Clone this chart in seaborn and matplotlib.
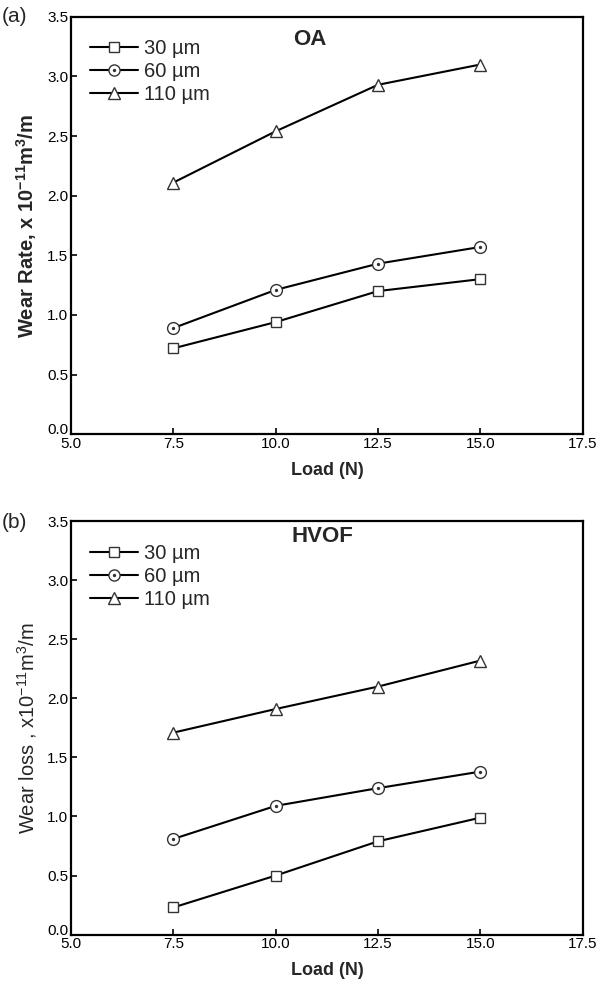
import numpy as np
import pandas as pd
import matplotlib
matplotlib.use("Agg")
import matplotlib.pyplot as plt
import matplotlib.transforms as mtransforms
from matplotlib.lines import Line2D
import seaborn as sns

sns.set_style("ticks")
plt.rcParams["font.family"] = ["Liberation Sans", "DejaVu Sans"]
plt.rcParams["mathtext.fontset"] = "custom"
plt.rcParams["mathtext.rm"] = "Liberation Sans"
plt.rcParams["mathtext.bf"] = "Liberation Sans:bold"

load = [7.5, 10.0, 12.5, 15.0]
sizes = ["30 µm", "60 µm", "110 µm"]

# wear rate, OA coating (x 10^-11 m^3/m)
oa_30 = [0.72, 0.94, 1.20, 1.30]
oa_60 = [0.89, 1.21, 1.43, 1.57]
oa_110 = [2.11, 2.54, 2.93, 3.10]

# wear loss, HVOF coating
hvof_30 = [0.23, 0.50, 0.79, 0.99]
hvof_60 = [0.81, 1.09, 1.24, 1.38]
hvof_110 = [1.71, 1.91, 2.10, 2.32]

x_ticks = [5.0, 7.5, 10.0, 12.5, 15.0, 17.5]
y_ticks = [0.0, 0.5, 1.0, 1.5, 2.0, 2.5, 3.0, 3.5]

markers = {"30 µm": "s", "60 µm": "o", "110 µm": "^"}
ms = {"30 µm": 7.5, "60 µm": 8.5, "110 µm": 9}


def make_df(s30, s60, s110):
    rows = []
    for name, vals in zip(sizes, [s30, s60, s110]):
        for x, v in zip(load, vals):
            rows.append({"Load": x, "Wear": v, "Size": name})
    return pd.DataFrame(rows)


def draw_panel(ax, df, ylabel, ybold, title, title_xy, tag, tag_y):
    for name in sizes:
        sub = df[df["Size"] == name]
        sns.lineplot(data=sub, x="Load", y="Wear", marker=markers[name],
                     color="black", linewidth=1.5, markersize=ms[name],
                     markerfacecolor="white", markeredgecolor="#333333",
                     markeredgewidth=1.0, legend=False, ax=ax, zorder=3)
    dots = df[df["Size"] == "60 µm"]
    ax.plot(dots["Load"], dots["Wear"], ls="none", marker="o", ms=1.4,
            color="#333333", zorder=4)

    ax.set_xlim(5.0, 17.5)
    ax.set_ylim(0.0, 3.5)
    ax.set_xticks(x_ticks)
    ax.set_yticks(y_ticks)
    ax.set_xticklabels([f"{t:.1f}" for t in x_ticks])
    ax.set_yticklabels([f"{t:.1f}" for t in y_ticks])
    ax.tick_params(direction="in", length=4, width=1.2, labelsize=11,
                   colors="black", pad=2)
    # nudge the 0.0 label up so it clears the 5.0 label, as in the original
    zero_lbl = ax.get_yticklabels()[0]
    zero_lbl.set_transform(zero_lbl.get_transform() + mtransforms.ScaledTranslation(
        0, 4 / 72, ax.figure.dpi_scale_trans))
    for sp in ax.spines.values():
        sp.set_visible(True)
        sp.set_linewidth(1.6)
        sp.set_color("black")

    ax.set_xlabel("Load (N)", fontsize=13, fontweight="bold", labelpad=8)
    ax.set_ylabel(ylabel, fontsize=14.5, fontweight="bold" if ybold else "normal",
                  labelpad=6)
    ax.text(title_xy[0], title_xy[1], title, transform=ax.transAxes,
            ha="center", va="center", fontsize=16, fontweight="bold")
    ax.figure.text(0.003, tag_y, tag, ha="left", va="center", fontsize=15)

    handles = []
    for name in sizes:
        h = Line2D([], [], color="black", lw=1.5, marker=markers[name],
                   ms=ms[name] - 0.5, mfc="white", mec="#333333", mew=1.0)
        if name == "60 µm":
            d = Line2D([], [], ls="none", marker="o", ms=1.4, color="#333333")
            h = (h, d)
        handles.append(h)
    ax.legend(handles, sizes, loc="upper left", bbox_to_anchor=(0.01, 0.98),
              frameon=False, fontsize=14.5, handlelength=2.35, handletextpad=0.3,
              labelspacing=0.2, borderaxespad=0.3)


fig = plt.figure(figsize=(6.02, 9.89), dpi=100)
ax1 = fig.add_axes([0.118, 0.561, 0.850, 0.422])
ax2 = fig.add_axes([0.118, 0.055, 0.850, 0.418])

draw_panel(ax1, make_df(oa_30, oa_60, oa_110),
           r"Wear Rate, x 10$^{\mathbf{-11}}$m$^{\mathbf{3}}$/m", True,
           "OA", (0.467, 0.945), "(a)", 1 - 17 / 989)
draw_panel(ax2, make_df(hvof_30, hvof_60, hvof_110),
           r"Wear loss , x10$^{-11}$m$^{3}$/m", False,
           "HVOF", (0.492, 0.963), "(b)", 1 - 522 / 989)

fig.savefig("out.png", dpi=100)
